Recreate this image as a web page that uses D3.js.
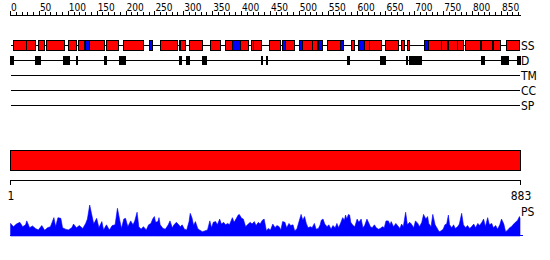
<!DOCTYPE html>
<html lang="en">
<head>
  <meta charset="UTF-8" />
  <title>Feature summary</title>
  <style>
    body { margin: 0; background: white; }
    text { font-family: "Liberation Sans Narrow", "DejaVu Sans Condensed", sans-serif; fill: black; }
  </style>
</head>
<body>
  <svg id="chart" width="550" height="260"></svg>
  <script src="https://d3js.org/d3.v7.min.js"></script>
  <script>
    const seqLength = 883;

    // secondary structure: [start, end, type] H = helix, E = strand
    const ssSegments = [
      [5, 28, "H"], [28, 44, "H"], [49, 59, "H"], [63, 94, "H"], [101, 114, "H"],
      [118, 129, "H"], [129, 136, "E"], [136, 162, "H"], [167, 188, "H"], [196, 230, "H"],
      [241, 247, "E"], [260, 289, "H"], [292, 295, "H"], [295, 304, "H"], [310, 333, "H"],
      [347, 364, "H"], [373, 385, "H"], [385, 398, "E"], [398, 411, "H"], [417, 420, "H"],
      [420, 434, "H"], [448, 467, "H"], [471, 476, "E"], [476, 492, "H"], [500, 505, "E"],
      [505, 523, "H"], [523, 532, "H"], [534, 541, "E"], [549, 572, "H"], [572, 577, "E"],
      [591, 596, "H"], [603, 613, "E"], [613, 622, "H"], [622, 642, "H"], [650, 673, "H"],
      [677, 683, "H"], [687, 691, "H"], [716, 724, "E"], [724, 746, "H"], [746, 757, "H"],
      [758, 774, "H"], [774, 785, "H"], [788, 814, "H"], [815, 834, "H"], [837, 849, "H"],
      [859, 881, "H"]
    ];

    // disordered regions
    const disorder = [
      [0, 5], [44, 53], [92, 102], [115, 117], [163, 166], [189, 199], [293, 296],
      [304, 309], [332, 339], [435, 437], [443, 445], [584, 588], [641, 649], [686, 688],
      [691, 711], [816, 822], [850, 862], [878, 883]
    ];

    const emptyTracks = ["TM", "CC", "SP"];

    // domain bar
    const domains = [[1, 883]];

    // PS profile: residue, score
    const psResidue = [
      1, 6, 11, 17, 22, 27, 29, 34, 39, 44, 49, 55, 60, 65, 70, 76, 79, 83, 88, 91,
      96, 101, 107, 110, 115, 120, 126, 131, 134, 138, 141, 145, 150, 154, 159, 162, 167, 172, 177, 182,
      186, 190, 193, 197, 200, 204, 209, 213, 216, 220, 223, 227, 231, 236, 240, 244, 247, 250, 252, 256,
      258, 260, 265, 269, 274, 277, 281, 284, 288, 291, 295, 298, 302, 306, 310, 312, 315, 318, 321, 325,
      328, 333, 337, 342, 346, 349, 352, 356, 359, 363, 366, 370, 373, 377, 380, 385, 388, 392, 395, 397,
      401, 404, 408, 411, 416, 419, 423, 426, 430, 433, 437, 440, 444, 447, 451, 455, 459, 462, 466, 469,
      472, 476, 479, 483, 486, 490, 493, 497, 500, 504, 507, 510, 513, 516, 520, 523, 527, 530, 534, 537,
      539, 542, 545, 549, 552, 556, 559, 563, 566, 569, 573, 576, 579, 581, 583, 586, 588, 590, 594, 597,
      601, 604, 608, 611, 614, 618, 620, 624, 627, 631, 634, 638, 641, 645, 648, 651, 655, 658, 660, 664,
      668, 671, 675, 678, 681, 685, 688, 692, 695, 699, 702, 706, 709, 713, 716, 720, 723, 725, 729, 732,
      736, 739, 743, 746, 750, 753, 756, 759, 761, 765, 768, 771, 775, 778, 782, 785, 789, 792, 796, 799,
      803, 806, 810, 813, 817, 820, 823, 827, 830, 834, 837, 841, 844, 848, 851, 855, 858, 862, 865, 868,
      872, 875, 879, 882, 883
    ];
    const psScore = [
      .35, .26, .33, .38, .26, .31, .42, .23, .28, .21, .17, .29, .16, .23, .26, .51, .26, .51, .49, .23,
      .19, .17, .23, .33, .23, .29, .21, .35, .47, .86, .63, .33, .49, .23, .40, .17, .31, .17, .29, .31,
      .77, .44, .21, .47, .49, .26, .42, .31, .42, .66, .26, .19, .26, .17, .31, .35, .47, .54, .38, .40,
      .51, .31, .21, .19, .31, .42, .23, .31, .38, .33, .26, .31, .19, .17, .40, .63, .51, .29, .40, .21,
      .17, .12, .14, .17, .42, .23, .38, .40, .31, .47, .33, .38, .31, .35, .31, .51, .38, .49, .58, .60,
      .49, .47, .26, .31, .38, .33, .40, .29, .38, .33, .44, .47, .14, .21, .17, .33, .23, .29, .26, .17,
      .40, .38, .23, .35, .29, .31, .14, .21, .38, .60, .44, .54, .35, .23, .26, .23, .35, .19, .21, .31,
      .44, .47, .33, .26, .31, .19, .29, .23, .35, .23, .38, .51, .44, .58, .47, .60, .58, .38, .29, .26,
      .47, .38, .47, .23, .29, .47, .40, .26, .23, .31, .23, .19, .21, .26, .23, .42, .42, .31, .40, .26,
      .35, .29, .21, .33, .26, .66, .31, .38, .33, .23, .42, .35, .26, .38, .60, .47, .54, .35, .26, .60,
      .31, .23, .12, .14, .19, .31, .33, .58, .31, .23, .31, .21, .26, .33, .63, .31, .23, .29, .21, .26,
      .33, .23, .35, .29, .38, .47, .26, .51, .31, .35, .23, .29, .19, .31, .47, .33, .12, .17, .23, .26,
      .33, .38, .44, .54, .49
    ];

    const svg = d3.select("#chart");
    const x = d3.scaleLinear().domain([0, seqLength]).range([10, 520]);

    // top ruler
    const ruler = svg.append("g");
    ruler.append("line")
      .attr("x1", x(0)).attr("x2", x(seqLength) + 1)
      .attr("y1", 15.5).attr("y2", 15.5)
      .attr("stroke", "black");
    ruler.selectAll(".tick")
      .data(d3.range(0, seqLength + 1, 10))
      .enter().append("line")
      .attr("x1", d => Math.round(x(d)) + 0.5)
      .attr("x2", d => Math.round(x(d)) + 0.5)
      .attr("y1", d => d % 50 === 0 ? 11 : 12)
      .attr("y2", 15.5)
      .attr("stroke", "black");
    ruler.selectAll(".lab")
      .data(d3.range(0, seqLength + 1, 50))
      .enter().append("text")
      .attr("x", d => x(d) + 1)
      .attr("y", 10.5)
      .attr("font-size", "10px")
      .text(d => d);

    // track rows
    const rowY = { SS: 45.5, D: 60.5, TM: 75.5, CC: 90.5, SP: 105.5 };

    Object.keys(rowY).forEach(k => {
      svg.append("line")
        .attr("x1", x(0) + 1).attr("x2", x(seqLength))
        .attr("y1", rowY[k]).attr("y2", rowY[k])
        .attr("stroke", "black");
      svg.append("text")
        .attr("x", x(seqLength) + 1)
        .attr("y", rowY[k] + 4.5)
        .attr("font-size", "12px")
        .text(k);
    });

    svg.selectAll(".ss")
      .data(ssSegments)
      .enter().append("rect")
      .attr("x", d => Math.round(x(d[0])) + 0.5)
      .attr("y", rowY.SS - 5)
      .attr("width", d => Math.max(1, Math.round(x(d[1]) - x(d[0]))))
      .attr("height", 10)
      .attr("fill", d => d[2] === "H" ? "#ff0000" : "#0000ff")
      .attr("stroke", "black");

    svg.selectAll(".dis")
      .data(disorder)
      .enter().append("rect")
      .attr("x", d => Math.round(x(d[0])) + 0.5)
      .attr("y", rowY.D - 4)
      .attr("width", d => Math.max(0.5, Math.round(x(d[1]) - x(d[0]))))
      .attr("height", 8)
      .attr("fill", "black")
      .attr("stroke", "black");

    // domain bar
    svg.selectAll(".dom")
      .data(domains)
      .enter().append("rect")
      .attr("x", d => x(d[0] - 1) + 0.5)
      .attr("y", 150.5)
      .attr("width", d => x(d[1]) - x(d[0] - 1))
      .attr("height", 20)
      .attr("fill", "#ff0000")
      .attr("stroke", "black");

    // bottom axis
    const axisG = svg.append("g");
    axisG.append("line")
      .attr("x1", x(0)).attr("x2", x(seqLength) + 1)
      .attr("y1", 180.5).attr("y2", 180.5)
      .attr("stroke", "black");
    const ends = [1, seqLength];
    axisG.selectAll(".et")
      .data(ends)
      .enter().append("line")
      .attr("x1", d => Math.round(x(d === 1 ? 0 : d)) + 0.5)
      .attr("x2", d => Math.round(x(d === 1 ? 0 : d)) + 0.5)
      .attr("y1", 180.5).attr("y2", 185)
      .attr("stroke", "black");
    axisG.selectAll(".el")
      .data(ends)
      .enter().append("text")
      .attr("x", d => x(d === 1 ? 0 : d) + 1)
      .attr("y", 200)
      .attr("text-anchor", "middle")
      .attr("font-size", "12px")
      .text(d => d);

    // PS profile
    const y = d3.scaleLinear().domain([0, 1]).range([236, 200]);
    const psData = psResidue.map((r, i) => ({ r: r, v: psScore[i] }));
    const area = d3.area()
      .x(d => x(d.r))
      .y0(y(0))
      .y1(d => y(d.v));
    svg.append("path")
      .datum(psData)
      .attr("d", area)
      .attr("fill", "#0000ff")
      .attr("stroke", "#0000ff")
      .attr("stroke-width", 0.6);
    svg.append("line")
      .attr("x1", x(0)).attr("x2", x(seqLength) + 3)
      .attr("y1", y(0) - 0.5).attr("y2", y(0) - 0.5)
      .attr("stroke", "#0000ff");
    svg.append("text")
      .attr("x", x(seqLength) + 1)
      .attr("y", 216)
      .attr("font-size", "12px")
      .text("PS");
  </script>
</body>
</html>
